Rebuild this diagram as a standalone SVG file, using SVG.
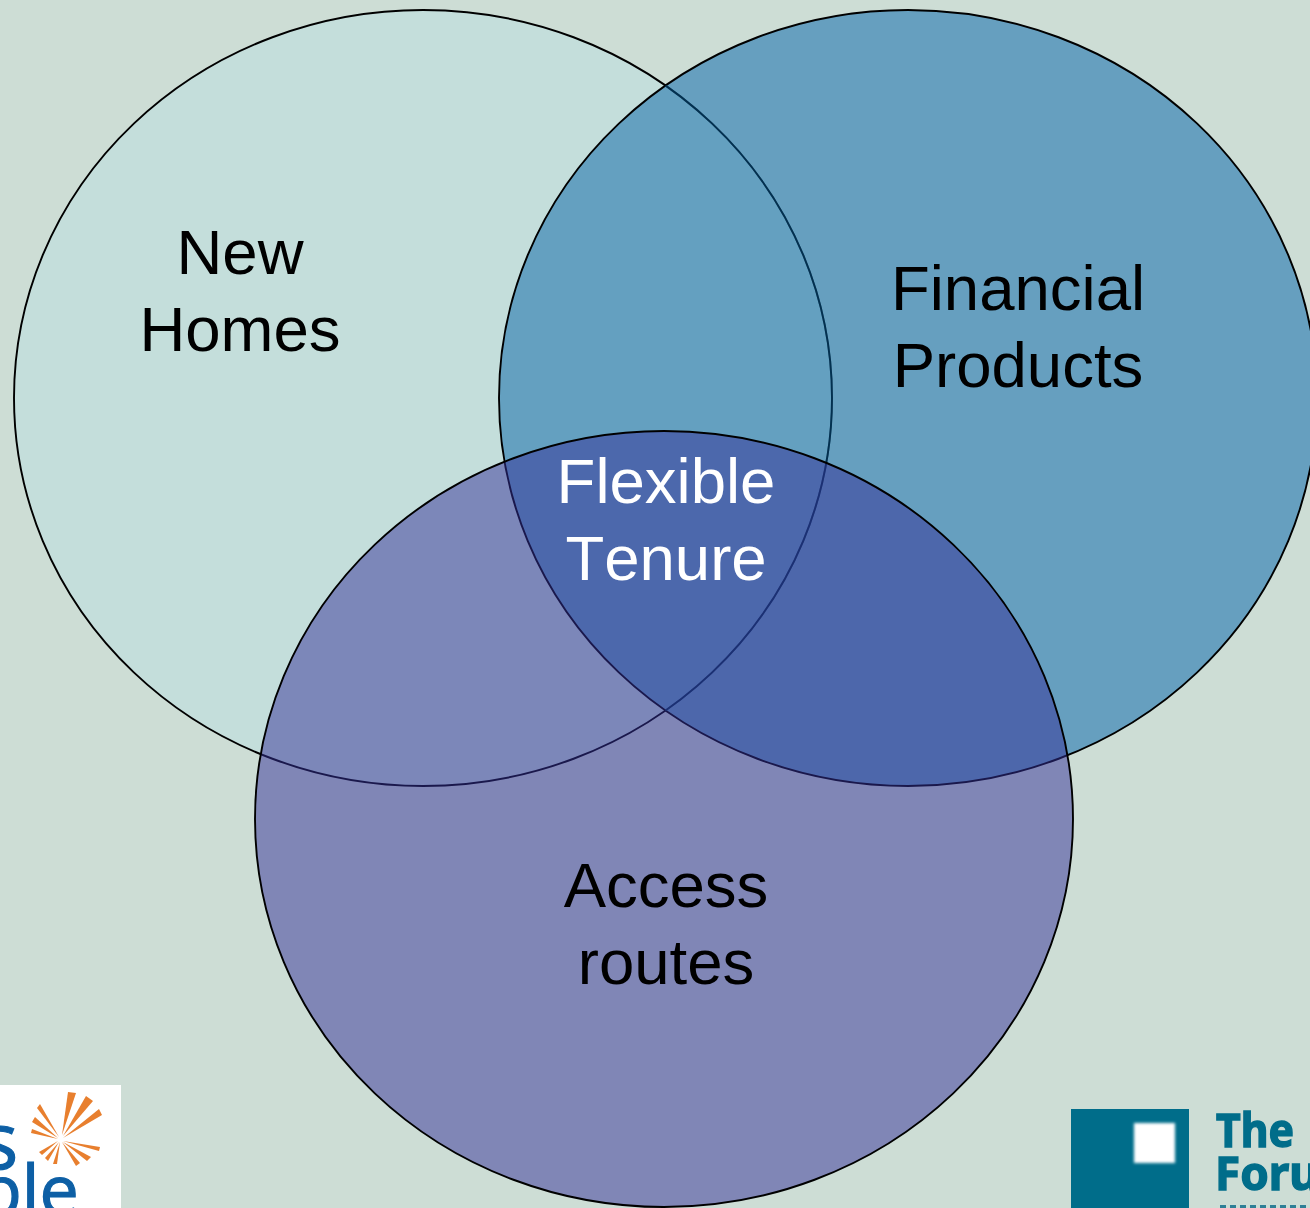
<svg xmlns="http://www.w3.org/2000/svg" width="1310" height="1208" viewBox="0 0 1310 1208">
<style>
.c{stroke:#000;stroke-width:1.9}
.t{font-family:"Liberation Sans",Arial,sans-serif;font-size:63.5px;text-anchor:middle;fill:#000;font-kerning:none}
.w{fill:#fff}
.lg{font-family:"Open Sans","DejaVu Sans",sans-serif;fill:#0a5fa5;stroke:#0a5fa5;stroke-width:1.2}
.fm{font-family:"Noto Sans","DejaVu Sans",sans-serif;font-weight:bold;fill:#006d8a;stroke:#006d8a;stroke-width:1.4;font-size:46px}
</style>
<defs>
<filter id="b" x="-20%" y="-20%" width="140%" height="140%"><feGaussianBlur stdDeviation="1.5"/></filter>
<filter id="s" x="-5%" y="-5%" width="110%" height="110%"><feGaussianBlur stdDeviation=".6"/></filter>
<clipPath id="inRight"><ellipse cx="908" cy="398" rx="409" ry="388"/></clipPath>
</defs>
<rect width="1310" height="1208" fill="#cdddd5"/>
<g id="logo-left">
<rect x="0" y="1085" width="121" height="123" fill="#fff"/>
<g filter="url(#s)">
<g fill="#e87f2e">
<path d="M62 1135L68 1092L76 1093Z"/><path d="M63 1136L86 1096L93 1101Z"/><path d="M63 1138L99 1109L102 1115Z"/>
<path d="M59 1137L37 1108L40 1104Z"/><path d="M58 1138L32 1122L35 1117Z"/><path d="M58 1139L31 1133L32 1129Z"/>
<path d="M63 1141L100 1147L99 1151Z"/><path d="M63 1142L91 1157L87 1161Z"/><path d="M62 1142L80 1163L76 1166Z"/>
<path d="M60 1142L57 1164L53 1164Z"/><path d="M59 1142L48 1161L45 1158Z"/><path d="M58 1141L42 1155L39 1152Z"/>
</g>
<text class="lg" x="-19" y="1169" font-size="78">s</text>
<text class="lg" x="-21" y="1215" font-size="70">ple</text>
</g>
</g>
<g id="logo-right">
<rect x="1071" y="1109" width="118" height="99" fill="#006d8a"/>
<rect x="1134" y="1123" width="41" height="40" fill="#fff" filter="url(#b)"/>
<g filter="url(#s)">
<text class="fm" x="1216" y="1147" textLength="78" lengthAdjust="spacingAndGlyphs">The</text>
<text class="fm" x="1215" y="1190" textLength="104" lengthAdjust="spacingAndGlyphs">Foru</text>
<path d="M1220 1206.5H1310" stroke="#2f7f96" stroke-width="3" stroke-dasharray="6 4" fill="none"/>
</g>
</g>
<g id="new-homes">
<ellipse class="c" cx="423" cy="398" rx="409" ry="388" fill="#c4dedb"/>
</g>
<g id="financial-products">
<ellipse class="c" cx="908" cy="398" rx="409" ry="388" fill="#4c90b9" fill-opacity=".8"/>
<ellipse cx="423" cy="398" rx="409" ry="388" fill="none" stroke="#03304f" stroke-width="1.9" clip-path="url(#inRight)"/>
</g>
<g id="access-routes">
<ellipse class="c" cx="664" cy="819" rx="409" ry="388" fill="#332f97" fill-opacity=".5"/>
</g>
<g id="labels">
<text class="t" x="240" y="274">New</text><text class="t" x="240" y="351">Homes</text>
<text class="t" x="1018" y="310">Financial</text><text class="t" x="1018" y="387">Products</text>
<text class="t w" x="666" y="503">Flexible</text><text class="t w" x="666" y="580">Tenure</text>
<text class="t" x="666" y="907">Access</text><text class="t" x="666" y="984">routes</text>
</g>
<g id="connectors"/>
</svg>
